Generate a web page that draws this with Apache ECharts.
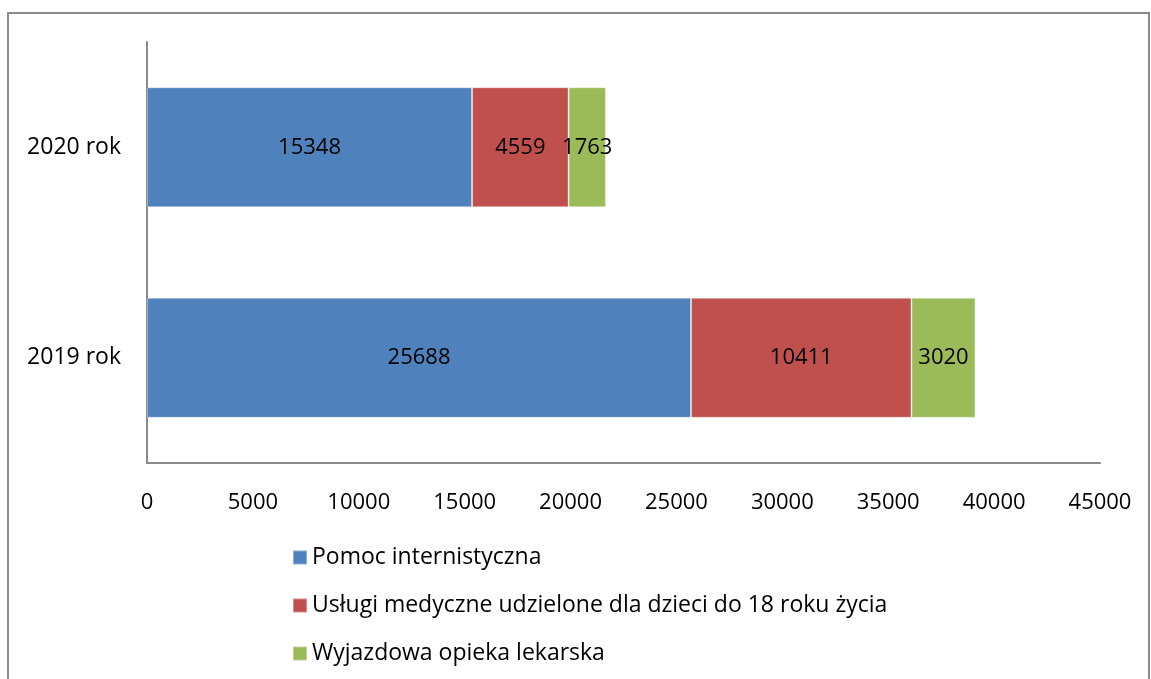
<!DOCTYPE html>
<html>
<head>
<meta charset="utf-8">
<script src="https://cdn.jsdelivr.net/npm/echarts@6/dist/echarts.min.js"></script>
<style>
  html, body { margin: 0; padding: 0; background: #fff; }
  #chart { width: 1151px; height: 679px; }
</style>
</head>
<body>
<div id="chart"></div>
<script>
/* kategorie i dane */
var lata = ['2019 rok', '2020 rok'];
var pomocInternistyczna = [25688, 15348];
var uslugiDzieci = [10411, 4559];
var wyjazdowa = [3020, 1763];
var nazwySerii = [
  'Pomoc internistyczna',
  'Usługi medyczne udzielone dla dzieci do 18 roku życia',
  'Wyjazdowa opieka lekarska'
];

var myChart = echarts.init(document.getElementById('chart'));
var font = 'Open Sans, Liberation Sans, sans-serif';

function seria(name, data, color) {
  return {
    name: name,
    type: 'bar',
    stack: 'total',
    barWidth: 120,
    data: data,
    itemStyle: {
      color: color,
      borderColor: 'rgba(255,255,255,0.35)',
      borderWidth: 1
    },
    label: {
      show: true,
      position: 'inside',
      color: '#000',
      fontSize: 22,
      fontFamily: font
    }
  };
}

var option = {
  animation: false,
  textStyle: { fontFamily: font },
  graphic: [{
    type: 'rect',
    shape: { x: 8, y: 13, width: 1141, height: 700 },
    style: { fill: 'none', stroke: '#8a8a8a', lineWidth: 2 }
  }],
  grid: { left: 147, right: 51, top: 42, bottom: 216 },
  legend: {
    orient: 'vertical',
    left: 287,
    top: 541,
    itemWidth: 14,
    itemHeight: 14,
    itemGap: 25,
    icon: 'rect',
    textStyle: { fontSize: 23, color: '#000', fontFamily: font },
    data: nazwySerii
  },
  xAxis: {
    type: 'value',
    min: 0,
    max: 45000,
    interval: 5000,
    splitLine: { show: false },
    axisLine: { show: true, lineStyle: { color: '#8a8a8a', width: 2 } },
    axisTick: { show: false },
    axisLabel: {
      color: '#000',
      fontSize: 22,
      margin: 29,
      fontFamily: font,
      formatter: function (v) { return String(v); }
    }
  },
  yAxis: {
    type: 'category',
    data: lata,
    axisLine: { show: true, lineStyle: { color: '#8a8a8a', width: 2 } },
    axisTick: { show: false },
    axisLabel: { color: '#000', fontSize: 23, margin: 26, fontFamily: font }
  },
  series: [
    seria(nazwySerii[0], pomocInternistyczna, '#4f81bd'),
    seria(nazwySerii[1], uslugiDzieci, '#c0504d'),
    seria(nazwySerii[2], wyjazdowa, '#9bbb59')
  ]
};

myChart.setOption(option);
</script>
</body>
</html>
